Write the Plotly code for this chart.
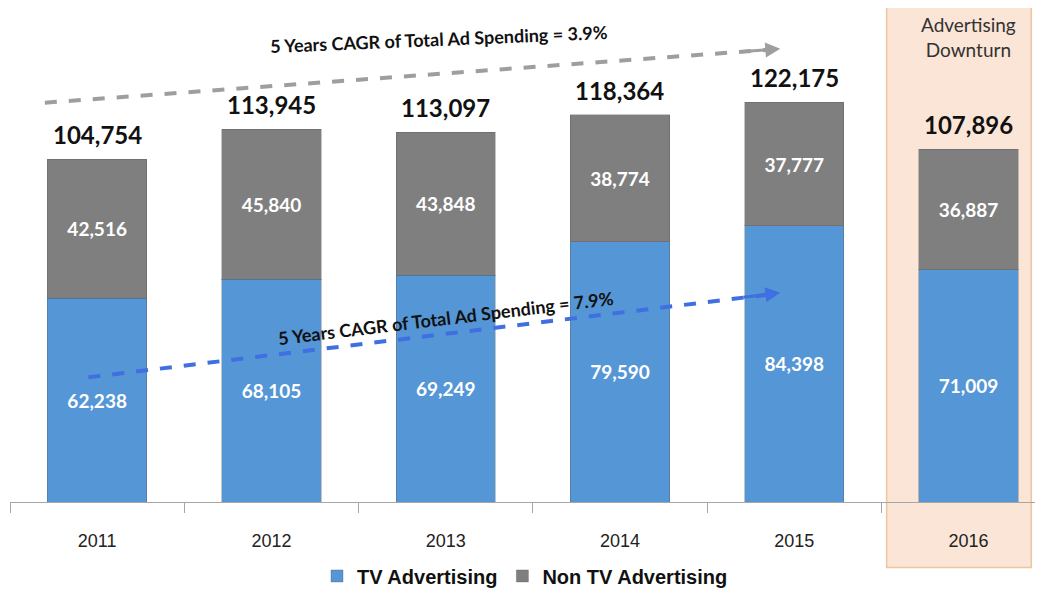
import plotly.graph_objects as go

years = ["2011", "2012", "2013", "2014", "2015", "2016"]
tv_ad = [62238, 68105, 69249, 79590, 84398, 71009]
non_tv_ad = [42516, 45840, 43848, 38774, 37777, 36887]
totals = [104754, 113945, 113097, 118364, 122175, 107896]

BLUE = "#5596D6"
GRAY = "#7F7F7F"
NUMFONT = "Lato, Carlito, 'Open Sans', sans-serif"
NARROW = "'Liberation Sans Narrow', 'Arial Narrow', 'Liberation Sans', sans-serif"

def fmt(v):
    return f"{v:,}"

fig = go.Figure()
fig.add_trace(go.Bar(
    name="TV Advertising", x=years, y=tv_ad,
    text=[fmt(v) for v in tv_ad], textposition="inside", insidetextanchor="middle",
    textfont=dict(family=NUMFONT, size=19, color="white", weight="bold"),
    marker=dict(color=BLUE, line=dict(color="rgba(90,90,90,0.35)", width=1)),
    width=0.57,
))
fig.add_trace(go.Bar(
    name="Non TV Advertising", x=years, y=non_tv_ad,
    text=[fmt(v) for v in non_tv_ad], textposition="inside", insidetextanchor="middle",
    textfont=dict(family=NUMFONT, size=19, color="white", weight="bold"),
    marker=dict(color=GRAY, line=dict(color="rgba(90,90,90,0.35)", width=1)),
    width=0.57,
))

# Totals above bars
for i, t in enumerate(totals):
    fig.add_annotation(x=i, y=t, xref="x", yref="y", text=f"<b>{fmt(t)}</b>", showarrow=False,
                       yanchor="bottom", yshift=8,
                       font=dict(family=NUMFONT, size=24, color="#111111"))

# 2016 highlight box
fig.add_shape(type="rect", xref="x", yref="paper", x0=4.53, x1=5.36, y0=-0.138, y1=1.07,
              fillcolor="#FBE5D6", line=dict(color="#EFC59E", width=1.5), layer="below")
fig.add_annotation(x=5.0, xref="x", yref="paper", y=0.98, text="Advertising<br>Downturn",
                   showarrow=False, yanchor="middle",
                   font=dict(family=NUMFONT, size=19, color="#333333"))

# Gray CAGR arrow (total spending)
fig.add_shape(type="line", xref="x", yref="y", x0=-0.30, y0=122070, x1=3.85, y1=138230,
              line=dict(color="#9E9E9E", width=4, dash="dash"))
fig.add_annotation(x=3.92, y=138530, ax=3.70, ay=137650, xref="x", yref="y",
                   axref="x", ayref="y", text="", showarrow=True,
                   arrowhead=2, arrowsize=1, arrowwidth=3, arrowcolor="#9E9E9E")
fig.add_annotation(x=1.96, y=141470, text="<b>5 Years CAGR of Total Ad Spending = 3.9%</b>",
                   showarrow=False, textangle=-2.4,
                   font=dict(family=NUMFONT, size=18, color="#111111"))

# Blue CAGR arrow (TV spending)
fig.add_shape(type="line", xref="x", yref="y", x0=-0.05, y0=38110, x1=3.85, y1=63390,
              line=dict(color="#3F6FE0", width=4, dash="dash"))
fig.add_annotation(x=3.92, y=63970, ax=3.70, ay=62500, xref="x", yref="y",
                   axref="x", ayref="y", text="", showarrow=True,
                   arrowhead=2, arrowsize=1, arrowwidth=3, arrowcolor="#3F6FE0")
fig.add_annotation(x=2.0, y=56140, text="<b>5 Years CAGR of Total Ad Spending = 7.9%</b>",
                   showarrow=False, textangle=-6.9,
                   font=dict(family=NUMFONT, size=18, color="#111111"))

fig.update_layout(
    width=1035, height=589,
    margin=dict(l=2, r=3, t=20, b=82),
    paper_bgcolor="white", plot_bgcolor="rgba(0,0,0,0)",
    barmode="stack",
    showlegend=True,
    legend=dict(orientation="h", x=0.5, xanchor="center", y=-0.156, yanchor="middle",
                traceorder="normal",
                font=dict(family=NARROW, size=20, color="#111111", weight="bold"),
                itemwidth=30, bgcolor="rgba(0,0,0,0)"),
    xaxis=dict(type="category", range=[-0.5, 5.41], showgrid=False,
               showline=True, linecolor="#A6A6A6", linewidth=1,
               ticks="outside", tickson="boundaries", ticklen=10, tickcolor="#A6A6A6",
               ticklabelstandoff=22,
               tickfont=dict(family=NARROW, size=18, color="#222222")),
    yaxis=dict(range=[0, 144900], visible=False, showgrid=False),
)

fig.write_html("out.html")
